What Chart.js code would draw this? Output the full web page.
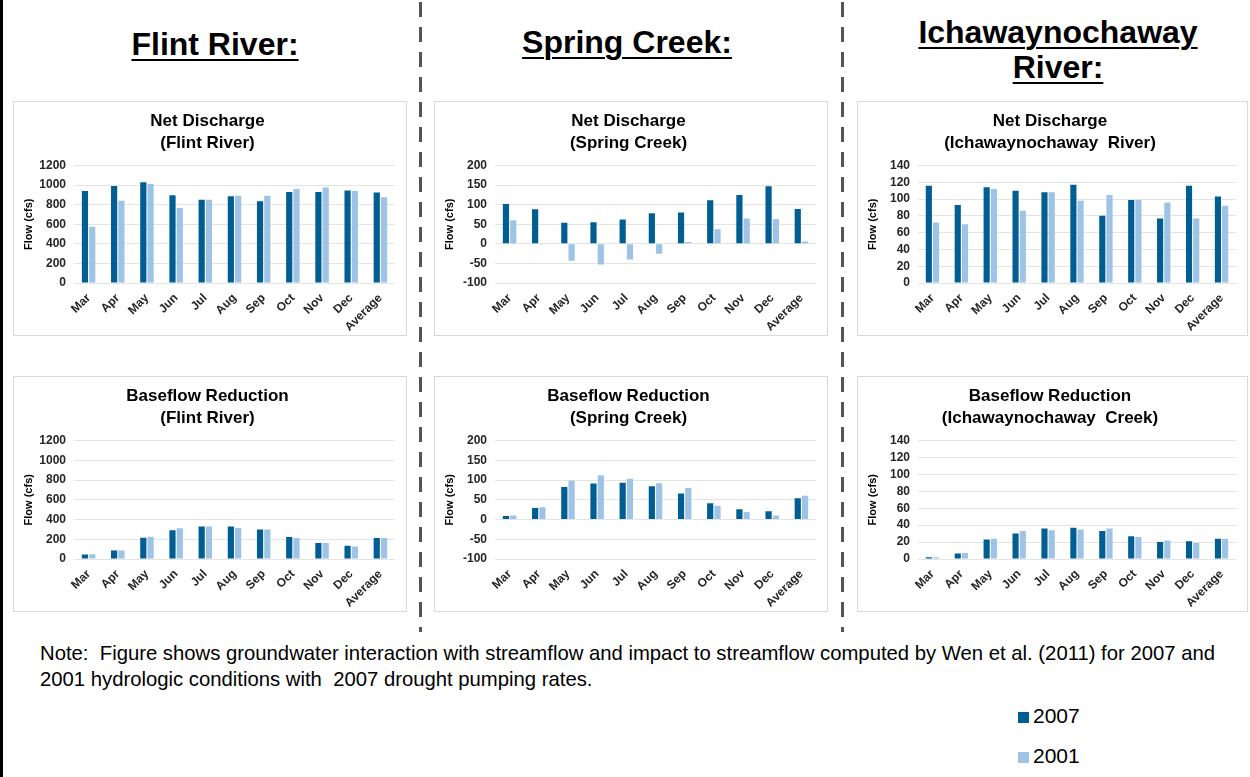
<!DOCTYPE html>
<html>
<head>
<meta charset="utf-8">
<script src="https://cdn.jsdelivr.net/npm/chart.js@4.4.0/dist/chart.umd.min.js"></script>
<style>
  body { margin: 0; background: #fff; width: 1250px; height: 777px; position: relative; overflow: hidden; font-family: "Liberation Sans", Arial, sans-serif; }
  .edge { position: absolute; left: 0; top: 0; width: 3px; height: 777px; background: #000; }
  .dash { position: absolute; top: 2px; width: 3px; height: 630px;
          background: repeating-linear-gradient(to bottom, #555 0 15px, transparent 15px 25px); }
  .head { position: absolute; text-align: center; font-family: "Liberation Sans", sans-serif;
          font-weight: bold; font-size: 32px; line-height: 35px; text-decoration: underline; text-underline-offset: 4px;
          text-decoration-thickness: 2px; color: #000; }
  .panel { position: absolute; border: 1px solid #d9d9d9; box-sizing: border-box; }
  .note { position: absolute; left: 40px; top: 640px; font-family: "Liberation Sans", sans-serif;
          font-size: 20.3px; line-height: 26px; color: #000; }
  .leg { position: absolute; left: 1018px; font-size: 21px; color: #000; }
  .leg span { display: inline-block; width: 11px; height: 11px; margin-right: 4px; }
</style>
</head>
<body>
<div class="edge"></div>
<div class="dash" style="left:419px"></div>
<div class="dash" style="left:841px"></div>

<div class="head" style="left:65px; width:300px; top:27px;">Flint River:</div>
<div class="head" style="left:477px; width:300px; top:25px;">Spring Creek:</div>
<div class="head" style="left:908px; width:300px; top:15px;">Ichawaynochaway<br>River:</div>

<div class="panel" style="left:13px; top:101px; width:394px; height:235px;"><canvas id="c1"></canvas></div>
<div class="panel" style="left:434px; top:101px; width:394px; height:235px;"><canvas id="c2"></canvas></div>
<div class="panel" style="left:857px; top:101px; width:391px; height:235px;"><canvas id="c3"></canvas></div>
<div class="panel" style="left:13px; top:376px; width:394px; height:236px;"><canvas id="c4"></canvas></div>
<div class="panel" style="left:434px; top:376px; width:394px; height:236px;"><canvas id="c5"></canvas></div>
<div class="panel" style="left:857px; top:376px; width:391px; height:236px;"><canvas id="c6"></canvas></div>

<div class="note">Note:&nbsp; Figure shows groundwater interaction with streamflow and impact to streamflow computed by Wen et al. (2011) for 2007 and<br>2001 hydrologic conditions with&nbsp; 2007 drought pumping rates.</div>

<div class="leg" style="top:704px;"><span style="background:#015E92"></span>2007</div>
<div class="leg" style="top:744px;"><span style="background:#9DC3E6"></span>2001</div>

<script>
var months = ["Mar", "Apr", "May", "Jun", "Jul", "Aug", "Sep", "Oct", "Nov", "Dec", "Average"];

// net discharge
var flintNet2007 = [940, 990, 1030, 895, 850, 885, 835, 930, 930, 945, 925];
var flintNet2001 = [575, 840, 1010, 765, 850, 890, 890, 960, 975, 940, 875];
var springNet2007 = [102, 88, 54, 55, 62, 78, 80, 111, 125, 147, 89];
var springNet2001 = [60, -2, -43, -53, -40, -25, 5, 37, 65, 63, 6];
var ichaNet2007 = [116, 93, 114, 110, 108, 117, 80, 99, 77, 116, 103];
var ichaNet2001 = [72, 70, 112, 86, 108, 98, 105, 99, 96, 77, 92];

// baseflow reduction
var flintBase2007 = [45, 86, 216, 291, 329, 329, 298, 223, 161, 134, 213];
var flintBase2001 = [48, 86, 226, 312, 329, 315, 298, 213, 161, 127, 213];
var springBase2007 = [9, 29, 82, 91, 93, 84, 66, 41, 26, 21, 54];
var springBase2001 = [10, 31, 98, 112, 103, 92, 80, 35, 19, 10, 60];
var ichaBase2007 = [2, 6.5, 23, 30, 36, 37, 33, 27, 20, 21, 24];
var ichaBase2001 = [2, 7, 24, 33, 34, 35, 36, 26, 22, 19, 24];

var dark = "#015E92";
var light = "#9DC3E6";
var tickFont = { family: "Liberation Sans, Arial", size: 12, weight: "bold" };

function makeChart(id, title, d2007, d2001, ymin, ymax, step) {
    var ctx = document.getElementById(id).getContext("2d");
    return new Chart(ctx, {
        type: "bar",
        data: {
            labels: months,
            datasets: [
                { label: "2007", data: d2007, backgroundColor: dark },
                { label: "2001", data: d2001, backgroundColor: light }
            ]
        },
        options: {
            responsive: true,
            maintainAspectRatio: false,
            animation: false,
            categoryPercentage: 0.5,
            barPercentage: 0.85,
            layout: { padding: { top: 9, left: 6, right: 11, bottom: 2 } },
            plugins: {
                legend: { display: false },
                tooltip: { enabled: false },
                title: {
                    display: true,
                    text: title,
                    color: "#000",
                    font: { family: "Liberation Sans, Arial", size: 17, weight: "bold", lineHeight: 1.25 },
                    padding: { top: 0, bottom: 12 }
                }
            },
            scales: {
                x: {
                    grid: { display: false },
                    border: { display: false },
                    ticks: { color: "#262626", font: tickFont, minRotation: 45, maxRotation: 45, padding: 0 },
                    afterFit: function (s) { s.height = 50; }
                },
                y: {
                    min: ymin,
                    max: ymax,
                    grid: { color: "#e4e4e4", drawTicks: false },
                    border: { display: false },
                    ticks: { stepSize: step, autoSkip: false, color: "#262626", font: tickFont, padding: 8,
                             callback: function (v) { return String(v); } },
                    title: { display: true, text: "Flow (cfs)", color: "#000", font: { family: "Liberation Sans, Arial", size: 11, weight: "bold" }, padding: 2 },
                    afterFit: function (s) { s.width = 54; }
                }
            }
        }
    });
}

window.onload = function () {
    makeChart("c1", ["Net Discharge", "(Flint River)"], flintNet2007, flintNet2001, 0, 1200, 200);
    makeChart("c2", ["Net Discharge", "(Spring Creek)"], springNet2007, springNet2001, -100, 200, 50);
    makeChart("c3", ["Net Discharge", "(Ichawaynochaway  River)"], ichaNet2007, ichaNet2001, 0, 140, 20);
    makeChart("c4", ["Baseflow Reduction", "(Flint River)"], flintBase2007, flintBase2001, 0, 1200, 200);
    makeChart("c5", ["Baseflow Reduction", "(Spring Creek)"], springBase2007, springBase2001, -100, 200, 50);
    makeChart("c6", ["Baseflow Reduction", "(Ichawaynochaway  Creek)"], ichaBase2007, ichaBase2001, 0, 140, 20);
};
</script>
</body>
</html>
